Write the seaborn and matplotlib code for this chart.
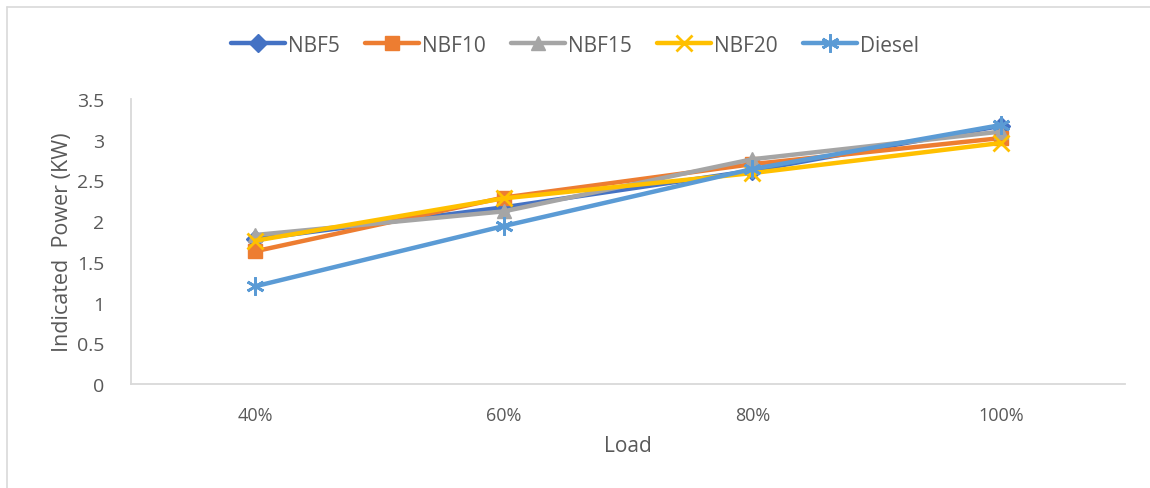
import matplotlib
matplotlib.use("Agg")
import matplotlib.pyplot as plt
import seaborn as sns
import pandas as pd
from matplotlib.lines import Line2D

loads = ["40%", "60%", "80%", "100%"]
series_names = ["NBF5", "NBF10", "NBF15", "NBF20", "Diesel"]
nbf5 = [1.78, 2.17, 2.62, 3.17]
nbf10 = [1.63, 2.29, 2.70, 3.02]
nbf15 = [1.83, 2.12, 2.76, 3.10]
nbf20 = [1.76, 2.28, 2.59, 2.96]
diesel = [1.20, 1.94, 2.64, 3.18]
yticks = [0, 0.5, 1, 1.5, 2, 2.5, 3, 3.5]
ytick_labels = ["0", "0.5", "1", "1.5", "2", "2.5", "3", "3.5"]

colors = {"NBF5": "#4472C4", "NBF10": "#ED7D31", "NBF15": "#A5A5A5",
          "NBF20": "#FFC000", "Diesel": "#5B9BD5"}
markers = {"NBF5": "D", "NBF10": "s", "NBF15": "^", "NBF20": "x", "Diesel": (6, 2, 0)}
msizes = {"NBF5": 9, "NBF10": 10, "NBF15": 10, "NBF20": 11, "Diesel": 13}

rows = []
for name, vals in zip(series_names, [nbf5, nbf10, nbf15, nbf20, diesel]):
    for l, v in zip(loads, vals):
        rows.append({"Load": l, "Power": v, "Series": name})
df = pd.DataFrame(rows)

sns.set_theme(style="white")
plt.rcParams["font.family"] = ["Open Sans", "DejaVu Sans"]

fig = plt.figure(figsize=(11.5, 4.89), dpi=100)
ax = fig.add_axes([131/1150, 1-385/489, (1125-131)/1150, (385-100)/489])

for name in series_names:
    sub = df[df["Series"] == name]
    sns.lineplot(data=sub, x="Load", y="Power", ax=ax, color=colors[name],
                 linewidth=3.2, marker=markers[name], markersize=msizes[name],
                 markeredgecolor=colors[name], markeredgewidth=2.0 if name in ("NBF20", "Diesel") else 1,
                 sort=False, legend=False, label=name)

ax.set_xlim(-0.5, 3.5)
ax.set_ylim(0, 3.5)
ax.set_yticks(yticks)
ax.set_yticklabels(ytick_labels)
ax.set_xticks(range(len(loads)))
ax.set_xticklabels(loads)
ax.tick_params(axis="both", length=0, colors="#595959")
ax.tick_params(axis="y", labelsize=14, pad=19)
ax.tick_params(axis="x", labelsize=13, pad=16)
for s in ["top", "right"]:
    ax.spines[s].set_visible(False)
for s in ["left", "bottom"]:
    ax.spines[s].set_color("#D9D9D9")
    ax.spines[s].set_linewidth(1.3)
ax.grid(False)

ax.set_xlabel("Load", color="#595959", fontsize=15, labelpad=8)
ax.set_ylabel("Indicated  Power (KW)", color="#595959", fontsize=15.5, labelpad=3)

handles = [Line2D([0], [0], color=colors[n], linewidth=3.2, marker=markers[n],
                  markersize=msizes[n], markeredgecolor=colors[n],
                  markeredgewidth=2.0 if n in ("NBF20", "Diesel") else 1)
           for n in series_names]
fig.legend(handles, series_names, loc="center", bbox_to_anchor=(0.5, 1-46/489),
           ncol=5, frameon=False, fontsize=15, labelcolor="#595959",
           handlelength=2.6, handletextpad=0.15, columnspacing=1.2)

fig.add_artist(Line2D([7/1150, 1.0], [1-8/489, 1-8/489], transform=fig.transFigure,
                      color="#D9D9D9", linewidth=1.2))
fig.add_artist(Line2D([7/1150, 7/1150], [0.0, 1-8/489], transform=fig.transFigure,
                      color="#D9D9D9", linewidth=1.2))

fig.savefig("out.png", dpi=100)
